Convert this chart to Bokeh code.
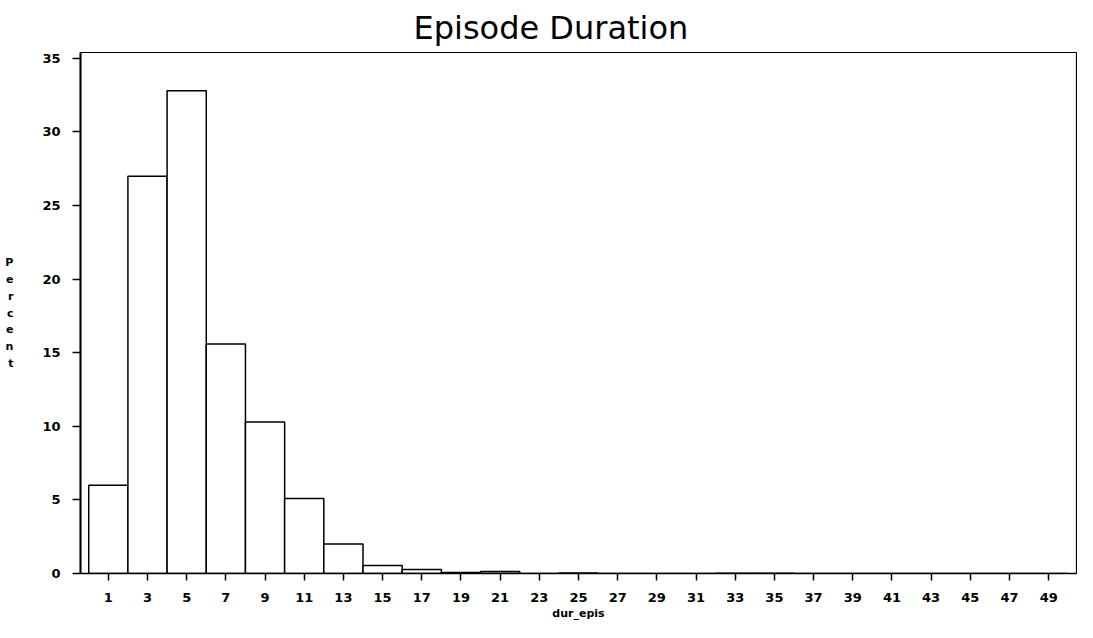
from bokeh.plotting import figure
from bokeh.models import Range1d, FixedTicker
from bokeh.embed import file_html
from bokeh.resources import INLINE

# ---- data ----
bin_mids = [1, 3, 5, 7, 9, 11, 13, 15, 17, 19, 21, 23, 25, 27, 29, 31, 33, 35, 37, 39, 41, 43, 45, 47, 49]
percent = [6.0, 27.0, 32.8, 15.6, 10.3, 5.1, 2.0, 0.55, 0.28, 0.07, 0.14, 0.0, 0.03, 0.0, 0.0, 0.0,
           0.02, 0.02, 0.0, 0.0, 0.0, 0.0, 0.0, 0.0, 0.0]
y_ticks = [0, 5, 10, 15, 20, 25, 30, 35]
title_text = "Episode Duration"
x_label = "dur_epis"
y_label = "Percent"

X0, X1 = -0.42, 50.42
Y0, Y1 = 0, 35.4

p = figure(width=1077, height=622, output_backend="svg", toolbar_location=None,
           x_range=Range1d(X0, X1), y_range=Range1d(Y0, Y1),
           min_border_left=80, min_border_right=1, min_border_top=52, min_border_bottom=48)

p.vbar(x=bin_mids, width=2, top=percent, bottom=0,
       fill_color="white", line_color="black", line_width=1.5)

p.xgrid.visible = False
p.ygrid.visible = False
p.outline_line_color = "black"
p.outline_line_width = 1.2
p.background_fill_color = "white"
p.border_fill_color = "white"

# title
p.title.text = title_text
p.title.align = "left"
p.title.offset = 333
p.title.text_font = "DejaVu Sans"
p.title.text_font_style = "normal"
p.title.text_font_size = "32px"
p.title.text_color = "black"
p.title.standoff = 12

for ax in (p.xaxis[0], p.yaxis[0]):
    ax.axis_line_color = "black"
    ax.major_tick_line_color = "black"
    ax.major_tick_line_width = 1.5
    ax.minor_tick_line_color = None
    ax.major_tick_in = 0
    ax.major_label_text_font = "DejaVu Sans"
    ax.major_label_text_font_style = "bold"
    ax.major_label_text_font_size = "13px"
    ax.major_label_text_color = "black"
    ax.axis_label_text_font = "DejaVu Sans"
    ax.axis_label_text_font_style = "bold"
    ax.axis_label_text_font_size = "11px"
    ax.axis_label_text_color = "black"

p.xaxis.ticker = FixedTicker(ticks=bin_mids)
p.xaxis.major_tick_out = 7
p.xaxis.major_label_standoff = 12
p.xaxis.axis_line_width = 1.5
p.xaxis.axis_label = x_label
p.xaxis.axis_label_standoff = 2

p.yaxis.ticker = FixedTicker(ticks=y_ticks)
p.yaxis.major_tick_out = 8
p.yaxis.major_label_standoff = 12
p.yaxis.axis_line_width = 2
p.yaxis.axis_label = "\n".join(y_label)
p.yaxis.axis_label_orientation = "horizontal"
p.yaxis.axis_label_text_line_height = 1.3
p.yaxis.axis_label_standoff = 26

open("out.html", "w").write(file_html(p, INLINE))
